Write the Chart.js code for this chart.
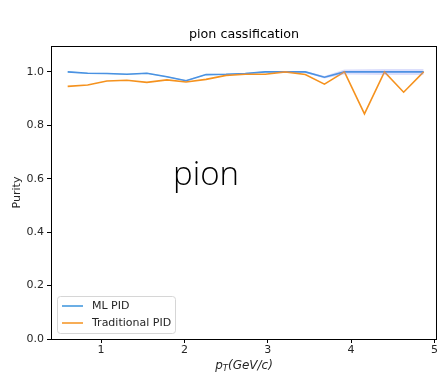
<!DOCTYPE html>
<html>
<head>
<meta charset="utf-8">
<script src="https://cdn.jsdelivr.net/npm/chart.js@4.4.0/dist/chart.umd.min.js"></script>
<style>
  html, body { margin: 0; padding: 0; background: #fff; }
  #wrap { width: 439px; height: 376px; }
</style>
</head>
<body>
<div id="wrap"><canvas id="purityChart" width="439" height="376"></canvas></div>
<script>
const ptBins = [0.6, 0.84, 1.07, 1.31, 1.55, 1.79, 2.02, 2.26, 2.5, 2.73, 2.97, 3.21, 3.45, 3.68, 3.92, 4.16, 4.4, 4.63, 4.87];

const mlPurity = [1.0, 0.995, 0.994, 0.991, 0.995, 0.982, 0.967, 0.99, 0.991, 0.994, 1.0, 1.0, 1.0, 0.98, 1.0, 1.0, 1.0, 1.0, 1.0];
const mlUpper = [1.002, 0.997, 0.996, 0.993, 0.997, 0.984, 0.97, 0.992, 0.993, 0.996, 1.002, 1.002, 1.003, 0.985, 1.009, 1.01, 1.011, 1.011, 1.011];
const mlLower = [0.998, 0.993, 0.992, 0.989, 0.993, 0.98, 0.964, 0.988, 0.989, 0.992, 0.998, 0.998, 0.997, 0.975, 0.99, 0.989, 0.988, 0.988, 0.988];

const tradPurity = [0.946, 0.951, 0.966, 0.969, 0.961, 0.97, 0.962, 0.972, 0.987, 0.991, 0.991, 1.0, 0.99, 0.954, 1.0, 0.843, 1.0, 0.924, 1.0];

const xTicks = [1, 2, 3, 4, 5];
const yTicks = [0.0, 0.2, 0.4, 0.6, 0.8, 1.0];

// Colors
const mlColor = '#3a93dd';
const tradColor = '#f5921e';
const textColor = '#262626';

const toPoints = (ys) => ptBins.map((x, i) => ({ x: x, y: ys[i] }));

// axis box, title, labels, legend and the big annotation
const extras = {
  id: 'extras',
  afterDraw(chart) {
    const { ctx, chartArea: a, scales } = chart;
    const cx = (a.left + a.right) / 2;
    ctx.save();
    ctx.strokeStyle = '#000';
    ctx.lineWidth = 1;
    ctx.strokeRect(a.left + 0.5, a.top + 0.5, a.right - a.left - 1, a.bottom - a.top);

    // title
    ctx.fillStyle = '#000';
    ctx.font = '12.7px "DejaVu Sans"';
    ctx.textAlign = 'center';
    ctx.textBaseline = 'alphabetic';
    ctx.fillText('pion cassification', cx, 38);

    // big label inside plot
    ctx.font = '300 33px "Open Sans"';
    ctx.fillText('pion', scales.x.getPixelForValue(2.26), scales.y.getPixelForValue(0.575));

    // y axis label
    ctx.fillStyle = textColor;
    ctx.font = '11px "DejaVu Sans"';
    ctx.save();
    ctx.translate(20, (a.top + a.bottom) / 2);
    ctx.rotate(-Math.PI / 2);
    ctx.fillText('Purity', 0, 0);
    ctx.restore();

    // x axis label with subscript
    ctx.textAlign = 'left';
    const big = 'italic 12px "DejaVu Sans"', small = 'italic 8.5px "DejaVu Sans"';
    ctx.font = big;
    const w1 = ctx.measureText('p').width;
    const w3 = ctx.measureText('(GeV/c)').width;
    ctx.font = small;
    const w2 = ctx.measureText('T').width;
    const x0 = cx - (w1 + w2 + w3) / 2;
    const base = 369;
    ctx.font = big;
    ctx.fillText('p', x0, base);
    ctx.font = small;
    ctx.fillText('T', x0 + w1, base + 2);
    ctx.font = big;
    ctx.fillText('(GeV/c)', x0 + w1 + w2, base);

    // legend
    const lx = a.left + 6, ly = a.bottom - 43, lw = 118, lh = 37;
    ctx.fillStyle = 'rgba(255,255,255,0.8)';
    ctx.strokeStyle = '#d6d6d6';
    ctx.lineWidth = 1;
    ctx.beginPath();
    ctx.roundRect(lx + 0.5, ly + 0.5, lw, lh, 3);
    ctx.fill();
    ctx.stroke();
    const items = [['ML PID', mlColor], ['Traditional PID', tradColor]];
    items.forEach((it, i) => {
      const yy = ly + 10 + i * 17;
      ctx.strokeStyle = it[1];
      ctx.lineWidth = 1.5;
      ctx.beginPath();
      ctx.moveTo(lx + 5, yy);
      ctx.lineTo(lx + 26, yy);
      ctx.stroke();
      ctx.fillStyle = textColor;
      ctx.font = '11px "DejaVu Sans"';
      ctx.textBaseline = 'middle';
      ctx.fillText(it[0], lx + 35, yy);
    });
    ctx.restore();
  }
};

new Chart(document.getElementById('purityChart').getContext('2d'), {
  type: 'line',
  data: {
    datasets: [
      {
        label: 'ML upper',
        data: toPoints(mlUpper),
        borderColor: 'rgba(0,0,0,0)',
        backgroundColor: 'rgba(130,140,245,0.28)',
        pointRadius: 0,
        fill: false
      },
      {
        label: 'ML lower',
        data: toPoints(mlLower),
        borderColor: 'rgba(0,0,0,0)',
        backgroundColor: 'rgba(130,140,245,0.28)',
        pointRadius: 0,
        fill: '-1'
      },
      {
        label: 'Traditional PID',
        data: toPoints(tradPurity),
        borderColor: tradColor,
        borderWidth: 1.6,
        pointRadius: 0,
        fill: false,
        tension: 0
      },
      {
        label: 'ML PID',
        data: toPoints(mlPurity),
        borderColor: mlColor,
        borderWidth: 1.6,
        pointRadius: 0,
        fill: false,
        tension: 0
      }
    ]
  },
  options: {
    responsive: false,
    animation: false,
    layout: { padding: { left: 0, right: 2, top: 46, bottom: 0 } },
    plugins: {
      legend: { display: false },
      tooltip: { enabled: false },
      title: { display: false }
    },
    scales: {
      x: {
        type: 'linear',
        min: 0.4,
        max: 5.03,
        afterBuildTicks: (s) => { s.ticks = xTicks.map(v => ({ value: v })); },
        afterFit: (s) => { s.height = 37; },
        grid: { drawOnChartArea: false, drawTicks: true, tickLength: 4, color: '#000' },
        border: { display: true, color: '#000' },
        ticks: {
          color: textColor,
          font: { family: 'DejaVu Sans', size: 11 },
          padding: 1,
          maxRotation: 0,
          callback: (v) => String(v)
        }
      },
      y: {
        type: 'linear',
        min: 0,
        max: 1.097,
        afterBuildTicks: (s) => { s.ticks = yTicks.map(v => ({ value: v })); },
        afterFit: (s) => { s.width = 51; },
        grid: { drawOnChartArea: false, drawTicks: true, tickLength: 4, color: '#000' },
        border: { display: true, color: '#000' },
        ticks: {
          color: textColor,
          font: { family: 'DejaVu Sans', size: 11 },
          padding: 3,
          callback: (v) => v.toFixed(1)
        }
      }
    }
  },
  plugins: [extras]
});
</script>
</body>
</html>
